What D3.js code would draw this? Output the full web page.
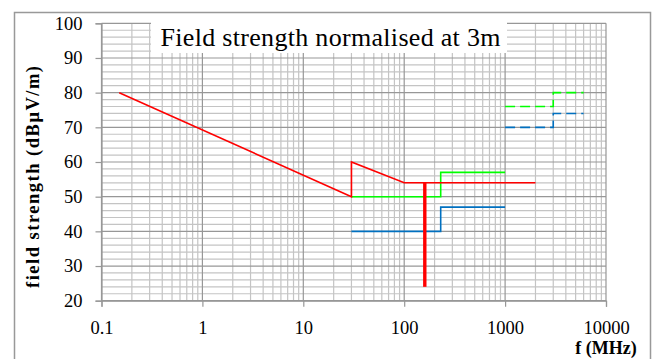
<!DOCTYPE html>
<html>
<head>
<meta charset="utf-8">
<script src="https://cdn.jsdelivr.net/npm/d3@7"></script>
<style>
  body { margin: 0; background: #fff; }
  svg { display: block; font-family: "Liberation Serif", "Times New Roman", serif; }
</style>
</head>
<body>
<svg width="657" height="359"></svg>
<script>
// limit lines, frequency in MHz, level in dBuV/m
var redX = [0.15, 30, 30, 100, 2000],
    redY = [80, 50, 60, 54, 54];
var greenX = [30, 230, 230, 1000],
    greenY = [50, 50, 57, 57];
var blueX = [30, 230, 230, 1000],
    blueY = [40, 40, 47, 47];
var greenDashX = [1000, 3000, 3000, 6000],
    greenDashY = [76, 76, 80, 80];
var blueDashX = [1000, 3000, 3000, 6000],
    blueDashY = [70, 70, 74, 74];
var markerX = [160, 160],
    markerY = [54, 24];

var xTicks = [0.1, 1, 10, 100, 1000, 10000],
    yTicks = [20, 30, 40, 50, 60, 70, 80, 90, 100];

var svg = d3.select("svg");

// outer frame
svg.append("rect")
    .attr("x", 14.5).attr("y", 12.5)
    .attr("width", 636).attr("height", 360)
    .attr("fill", "none").attr("stroke", "#999").attr("stroke-width", 1.5);

var x = d3.scaleLog().domain([0.1, 10000]).range([101.5, 606]),
    y = d3.scaleLinear().domain([20, 100]).range([300.7, 23.3]);

var grid = svg.append("g");

// minor grid
var minorX = [];
xTicks.slice(0, -1).forEach(function(d) {
    for (var k = 2; k < 10; k++) minorX.push(d * k);
});
var minorY = d3.range(20, 101, 2).filter(function(v) { return v % 10 != 0; });

grid.selectAll(".mx").data(minorX).enter().append("line")
    .attr("x1", function(d) { return x(d); }).attr("x2", function(d) { return x(d); })
    .attr("y1", y(100)).attr("y2", y(20))
    .attr("stroke", "#c4c4c4").attr("stroke-width", 1.2);
grid.selectAll(".my").data(minorY).enter().append("line")
    .attr("y1", function(d) { return y(d); }).attr("y2", function(d) { return y(d); })
    .attr("x1", x(0.1)).attr("x2", x(10000))
    .attr("stroke", "#c4c4c4").attr("stroke-width", 1.2);

// major grid
grid.selectAll(".Mx").data(xTicks).enter().append("line")
    .attr("x1", function(d) { return x(d); }).attr("x2", function(d) { return x(d); })
    .attr("y1", y(100)).attr("y2", y(20))
    .attr("stroke", "#979797").attr("stroke-width", 1.2);
grid.selectAll(".My").data(yTicks).enter().append("line")
    .attr("y1", function(d) { return y(d); }).attr("y2", function(d) { return y(d); })
    .attr("x1", x(0.1)).attr("x2", x(10000))
    .attr("stroke", "#979797").attr("stroke-width", 1.2);

// axes
var yAxis = svg.append("g")
    .attr("transform", "translate(" + x(0.1) + ",0)")
    .call(d3.axisLeft(y).tickValues(yTicks).tickSize(6).tickPadding(13).tickFormat(d3.format("d")));
var xAxis = svg.append("g")
    .attr("transform", "translate(0," + y(20) + ")")
    .call(d3.axisBottom(x).tickValues(xTicks).tickSize(6).tickPadding(14)
        .tickFormat(function(d) { return d < 1 ? "0.1" : d3.format("d")(d); }));

[xAxis, yAxis].forEach(function(a) {
    a.select(".domain").attr("stroke", "#979797").attr("stroke-width", 1.2);
    a.selectAll(".tick line").attr("stroke", "#979797").attr("stroke-width", 1.2);
    a.selectAll("text").attr("font-family", "Liberation Serif, Times New Roman, serif")
        .attr("font-size", 18.5).attr("fill", "#000");
});

// series
var line = d3.line();
function draw(xs, ys, color, width, dash) {
    var pts = xs.map(function(v, i) { return [x(v), y(ys[i])]; });
    svg.append("path")
        .attr("d", line(pts))
        .attr("fill", "none")
        .attr("stroke", color)
        .attr("stroke-width", width)
        .attr("stroke-dasharray", dash || null);
}
draw(greenX, greenY, "#00ff00", 1.6);
draw(blueX, blueY, "#0070c0", 1.6);
draw(greenDashX, greenDashY, "#00ff00", 1.6, "10,5");
draw(blueDashX, blueDashY, "#0070c0", 1.6, "10,5");
draw(redX, redY, "#ff0000", 1.6);
draw(markerX, markerY, "#ff0000", 3.4);

// title box
svg.append("rect")
    .attr("x", 151).attr("y", 19).attr("width", 356).attr("height", 34)
    .attr("fill", "#fff");
svg.append("text")
    .attr("x", 330.5).attr("y", 45.5)
    .attr("text-anchor", "middle")
    .attr("font-size", 26)
    .attr("textLength", 340)
    .text("Field strength normalised at 3m");

// axis titles
svg.append("text")
    .attr("transform", "translate(39,177) rotate(-90)")
    .attr("text-anchor", "middle")
    .attr("font-size", 18.5).attr("font-weight", "bold")
    .attr("textLength", 222)
    .text("field strength (dB\u03bcV/m)");
svg.append("text")
    .attr("x", 606).attr("y", 354)
    .attr("text-anchor", "middle")
    .attr("font-size", 18).attr("font-weight", "bold")
    .text("f (MHz)");
</script>
</body>
</html>
